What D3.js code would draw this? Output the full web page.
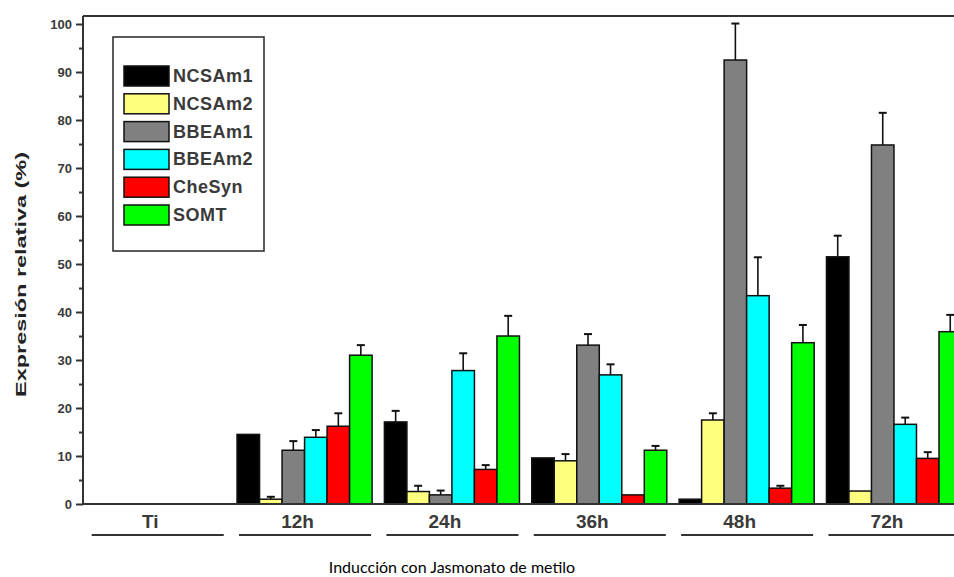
<!DOCTYPE html>
<html>
<head>
<meta charset="utf-8">
<script src="https://cdn.jsdelivr.net/npm/d3@7"></script>
<style>
  html, body { margin: 0; padding: 0; background: #fff; }
  svg { display: block; }
</style>
</head>
<body>
<svg id="chart" width="954" height="577"></svg>
<script>
// Sampling times (groups along the x axis)
const groups = ["Ti", "12h", "24h", "36h", "48h", "72h"];
// Genes (one bar per gene in each group)
const genes = ["NCSAm1", "NCSAm2", "BBEAm1", "BBEAm2", "CheSyn", "SOMT"];
const geneColors = ["#000000", "#ffff80", "#808080", "#00ffff", "#ff0000", "#00ff00"];

// Relative expression (%) per gene, in group order
const NCSAm1 = [0, 14.5, 17.1, 9.6, 1.0, 51.5];
const NCSAm2 = [0, 1.0, 2.6, 9.0, 17.5, 2.7];
const BBEAm1 = [0, 11.2, 1.9, 33.1, 92.5, 74.8];
const BBEAm2 = [0, 13.9, 27.8, 26.9, 43.4, 16.6];
const CheSyn = [0, 16.2, 7.2, 1.9, 3.3, 9.5];
const SOMT   = [0, 31.0, 35.0, 11.2, 33.6, 35.9];

// Standard error (upper whisker only)
const errNCSAm1 = [0, 0, 2.3, 0, 0, 4.4];
const errNCSAm2 = [0, 0.5, 1.2, 1.4, 1.4, 0];
const errBBEAm1 = [0, 1.9, 0.9, 2.3, 7.6, 6.7];
const errBBEAm2 = [0, 1.5, 3.6, 2.2, 8.0, 1.4];
const errCheSyn = [0, 2.7, 0.9, 0, 0.5, 1.3];
const errSOMT   = [0, 2.1, 4.2, 0.9, 3.7, 3.5];

const yMajorTicks = [0, 10, 20, 30, 40, 50, 60, 70, 80, 90, 100];
const yMinorTicks = [5, 15, 25, 35, 45, 55, 65, 75, 85, 95];

const yTitle = "Expresión relativa (%)";
const xTitle = "Inducción con Jasmonato de metilo";

const valueRows = [NCSAm1, NCSAm2, BBEAm1, BBEAm2, CheSyn, SOMT];
const errRows = [errNCSAm1, errNCSAm2, errBBEAm1, errBBEAm2, errCheSyn, errSOMT];

const records = [];
groups.forEach((g, gi) => {
  genes.forEach((s, si) => {
    records.push({ group: g, gene: s, value: valueRows[si][gi], err: errRows[si][gi], color: geneColors[si] });
  });
});

const svg = d3.select("#chart");
const axisColor = "#333333";
const textColor = "#3a3a3a";

// Plot frame
const plotLeft = 83, plotTop = 16, plotBottom = 504, plotRight = 980;

const y = d3.scaleLinear().domain([0, 101.67]).range([plotBottom, plotTop]);
const x = d3.scaleBand().domain(groups).range([89.7, 961.5]).paddingInner(0.0835).paddingOuter(0);
const xInner = d3.scaleBand().domain(genes).range([0, x.bandwidth()]).padding(0);

// Bars
const bars = svg.append("g");
bars.selectAll("rect")
  .data(records.filter(d => d.value > 0))
  .join("rect")
  .attr("x", d => x(d.group) + xInner(d.gene))
  .attr("y", d => y(d.value))
  .attr("width", xInner.bandwidth())
  .attr("height", d => y(0) - y(d.value))
  .attr("fill", d => d.color)
  .attr("stroke", "#111")
  .attr("stroke-width", 1.5);

// Error whiskers
const errs = svg.append("g").attr("stroke", "#111").attr("stroke-width", 1.6);
records.filter(d => d.err > 0).forEach(d => {
  const cx = x(d.group) + xInner(d.gene) + xInner.bandwidth() / 2;
  errs.append("line").attr("x1", cx).attr("x2", cx).attr("y1", y(d.value)).attr("y2", y(d.value + d.err));
  errs.append("line").attr("x1", cx - 4).attr("x2", cx + 4).attr("y1", y(d.value + d.err)).attr("y2", y(d.value + d.err)).attr("stroke-width", 2);
});

// Frame lines: top and baseline
svg.append("line").attr("x1", plotLeft).attr("x2", plotRight).attr("y1", plotTop).attr("y2", plotTop)
  .attr("stroke", axisColor).attr("stroke-width", 2);
svg.append("line").attr("x1", plotLeft).attr("x2", plotRight).attr("y1", plotBottom).attr("y2", plotBottom)
  .attr("stroke", axisColor).attr("stroke-width", 2);

// Y axis (major ticks with labels, minor ticks without)
const yAxis = d3.axisLeft(y).tickValues(yMajorTicks).tickSize(7).tickPadding(4).tickFormat(d3.format("d"));
const gy = svg.append("g").attr("transform", `translate(${plotLeft},0)`).call(yAxis);
gy.select(".domain").attr("d", `M0,${plotBottom}V${plotTop}`).attr("stroke", axisColor).attr("stroke-width", 2);
gy.selectAll(".tick line").attr("stroke", axisColor).attr("stroke-width", 2);
gy.selectAll(".tick text")
  .attr("fill", textColor)
  .style("font-family", "'Liberation Sans', Arial, sans-serif")
  .style("font-weight", "bold")
  .style("font-size", "13px");
const yMinor = d3.axisLeft(y).tickValues(yMinorTicks).tickSize(4).tickFormat("");
const gyMinor = svg.append("g").attr("transform", `translate(${plotLeft},0)`).call(yMinor);
gyMinor.select(".domain").remove();
gyMinor.selectAll(".tick line").attr("stroke", axisColor).attr("stroke-width", 2);

// Group labels with underlines
const gx = svg.append("g");
groups.forEach(g => {
  const x0 = x(g), x1 = x(g) + x.bandwidth();
  gx.append("text")
    .attr("x", (x0 + x1) / 2 - 7)
    .attr("y", 528)
    .attr("text-anchor", "middle")
    .attr("fill", textColor)
    .style("font-family", "'Liberation Sans', Arial, sans-serif")
    .style("font-weight", "bold")
    .style("font-size", "19px")
    .text(g);
  gx.append("line")
    .attr("x1", x0 + 2).attr("x2", x1 - 1)
    .attr("y1", 535).attr("y2", 535)
    .attr("stroke", axisColor).attr("stroke-width", 2);
});

// Y axis title
svg.append("text")
  .attr("transform", `translate(25.5,${274.5}) rotate(-90)`)
  .attr("text-anchor", "middle")
  .attr("fill", "#222")
  .attr("textLength", 245)
  .attr("lengthAdjust", "spacingAndGlyphs")
  .style("font-family", "'Liberation Sans', Arial, sans-serif")
  .style("font-weight", "bold")
  .style("font-size", "14px")
  .text(yTitle);

// X title
svg.append("text")
  .attr("x", 452)
  .attr("y", 573)
  .attr("text-anchor", "middle")
  .attr("fill", "#000")
  .style("font-family", "Lato, 'Open Sans', sans-serif")
  .style("font-size", "16px")
  .text(xTitle);

// Legend
const legend = svg.append("g");
legend.append("rect")
  .attr("x", 113).attr("y", 37).attr("width", 151).attr("height", 214)
  .attr("fill", "#fff").attr("stroke", axisColor).attr("stroke-width", 1.6);
const rowY = d3.scalePoint().domain(genes).range([66, 66 + 5 * 27.8]);
genes.forEach((s, i) => {
  legend.append("rect")
    .attr("x", 124).attr("y", rowY(s)).attr("width", 45).attr("height", 20)
    .attr("fill", geneColors[i]).attr("stroke", "#111").attr("stroke-width", 1.5);
  legend.append("text")
    .attr("x", 173).attr("y", rowY(s) + 16)
    .attr("fill", textColor)
    .style("font-family", "'Liberation Sans', Arial, sans-serif")
    .style("font-weight", "bold")
    .style("font-size", "18px")
    .style("letter-spacing", "0.5px")
    .text(s);
});
</script>
</body>
</html>
